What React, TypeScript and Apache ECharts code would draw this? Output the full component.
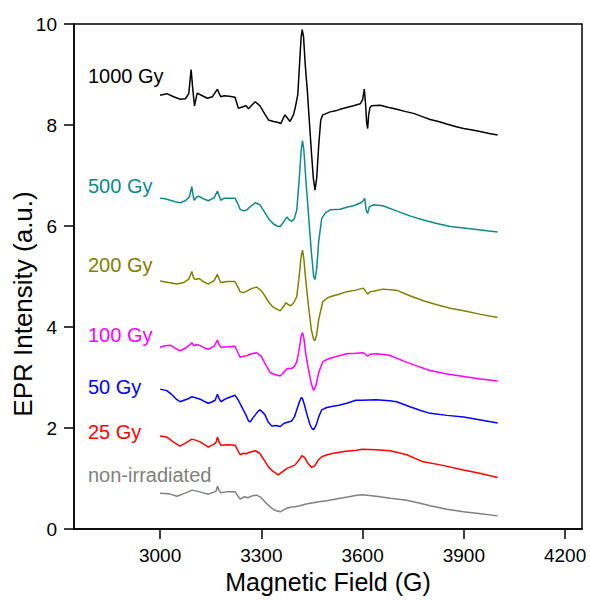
import React, { useEffect, useRef } from "react";
import * as echarts from "echarts";

const xTicks = [3000, 3300, 3600, 3900, 4200];
const yTicks = [0, 2, 4, 6, 8, 10];

const seriesNames = ["1000 Gy", "500 Gy", "200 Gy", "100 Gy", "50 Gy", "25 Gy", "non-irradiated"];
const seriesColors = ["#000000", "#0E8A8A", "#808000", "#FF00FF", "#0000FF", "#FF0000", "#808080"];

const gy1000: [number, number][] = [
  [3000, 8.59], [3020, 8.62], [3040, 8.56], [3060, 8.51], [3075, 8.52], [3085, 8.62], [3092, 9.1], [3097, 8.7],
  [3102, 8.38], [3110, 8.63], [3125, 8.58], [3140, 8.53], [3155, 8.56], [3165, 8.66], [3170, 8.71], [3175, 8.62],
  [3180, 8.56], [3190, 8.58], [3205, 8.57], [3222, 8.55], [3232, 8.33], [3245, 8.36], [3255, 8.38], [3262, 8.32],
  [3270, 8.38], [3282, 8.46], [3296, 8.38], [3310, 8.22], [3321, 8.1], [3336, 8.07], [3350, 8.05], [3358, 8.03],
  [3364, 8.12], [3370, 8.2], [3376, 8.15], [3385, 8.07], [3395, 8.2], [3400, 8.33], [3408, 8.6], [3414, 9.3],
  [3418, 9.75], [3421, 9.89], [3425, 9.75], [3430, 9.2], [3436, 8.7], [3442, 8.1], [3448, 7.5], [3454, 6.95],
  [3459, 6.71], [3464, 6.95], [3470, 7.6], [3476, 8.1], [3482, 8.2], [3490, 8.22], [3504, 8.26], [3520, 8.28],
  [3533, 8.31], [3550, 8.34], [3573, 8.38], [3593, 8.42], [3600, 8.5], [3605, 8.71], [3609, 8.4], [3612, 8.05],
  [3615, 7.93], [3618, 8.2], [3622, 8.35], [3627, 8.38], [3652, 8.39], [3675, 8.35], [3701, 8.31], [3725, 8.27],
  [3751, 8.23], [3775, 8.17], [3800, 8.11], [3825, 8.07], [3849, 8.02], [3875, 7.97], [3899, 7.93], [3925, 7.9],
  [3948, 7.87], [3975, 7.83], [4000, 7.8],
];

const gy500: [number, number][] = [
  [3000, 6.55], [3015, 6.54], [3030, 6.51], [3045, 6.48], [3059, 6.46], [3075, 6.5], [3087, 6.58], [3094, 6.78],
  [3098, 6.6], [3101, 6.51], [3108, 6.57], [3114, 6.59], [3128, 6.54], [3143, 6.5], [3160, 6.56], [3170, 6.69],
  [3175, 6.6], [3180, 6.51], [3190, 6.55], [3205, 6.55], [3222, 6.55], [3230, 6.45], [3237, 6.33], [3247, 6.3],
  [3257, 6.32], [3270, 6.4], [3282, 6.46], [3296, 6.42], [3310, 6.27], [3321, 6.15], [3336, 6.04], [3347, 6.0],
  [3356, 5.99], [3366, 6.08], [3376, 6.18], [3383, 6.12], [3390, 6.09], [3398, 6.15], [3405, 6.32], [3412, 6.9],
  [3418, 7.5], [3422, 7.69], [3426, 7.5], [3432, 6.9], [3440, 6.2], [3448, 5.5], [3455, 5.0], [3459, 4.94],
  [3464, 5.15], [3470, 5.7], [3479, 6.15], [3490, 6.26], [3504, 6.32], [3533, 6.33], [3553, 6.37], [3573, 6.4],
  [3595, 6.46], [3602, 6.5], [3606, 6.55], [3611, 6.3], [3615, 6.25], [3620, 6.38], [3632, 6.42], [3660, 6.4],
  [3700, 6.3], [3740, 6.2], [3780, 6.12], [3820, 6.05], [3860, 5.99], [3900, 5.96], [3950, 5.92], [4000, 5.88],
];

const gy200: [number, number][] = [
  [3000, 4.91], [3025, 4.88], [3050, 4.85], [3070, 4.88], [3085, 4.95], [3094, 5.1], [3099, 4.98], [3104, 4.94],
  [3116, 4.96], [3130, 4.89], [3143, 4.85], [3160, 4.92], [3170, 5.04], [3175, 4.95], [3180, 4.88], [3200, 4.9],
  [3222, 4.9], [3230, 4.8], [3237, 4.7], [3247, 4.68], [3257, 4.71], [3270, 4.76], [3286, 4.79], [3300, 4.72],
  [3310, 4.62], [3321, 4.5], [3331, 4.42], [3341, 4.37], [3356, 4.32], [3365, 4.4], [3373, 4.48], [3380, 4.44],
  [3387, 4.42], [3396, 4.48], [3405, 4.6], [3412, 5.0], [3418, 5.4], [3422, 5.52], [3426, 5.35], [3432, 4.9],
  [3440, 4.4], [3448, 3.95], [3455, 3.75], [3459, 3.73], [3464, 3.85], [3470, 4.15], [3482, 4.5], [3492, 4.56],
  [3504, 4.6], [3530, 4.65], [3553, 4.7], [3580, 4.73], [3602, 4.77], [3608, 4.72], [3615, 4.65], [3622, 4.7],
  [3632, 4.71], [3660, 4.75], [3700, 4.73], [3740, 4.62], [3780, 4.52], [3820, 4.44], [3860, 4.37], [3900, 4.32],
  [3950, 4.25], [4000, 4.19],
];

const gy100: [number, number][] = [
  [3000, 3.6], [3015, 3.63], [3030, 3.64], [3045, 3.58], [3059, 3.53], [3075, 3.58], [3087, 3.64], [3094, 3.69],
  [3100, 3.63], [3108, 3.65], [3116, 3.64], [3130, 3.59], [3143, 3.56], [3160, 3.62], [3170, 3.74], [3175, 3.65],
  [3180, 3.6], [3200, 3.61], [3222, 3.62], [3230, 3.5], [3237, 3.4], [3247, 3.42], [3257, 3.43], [3270, 3.47],
  [3286, 3.49], [3300, 3.42], [3313, 3.25], [3326, 3.1], [3340, 3.06], [3356, 3.03], [3366, 3.1], [3376, 3.18],
  [3390, 3.18], [3398, 3.22], [3405, 3.31], [3412, 3.55], [3418, 3.82], [3422, 3.89], [3426, 3.78], [3432, 3.45],
  [3440, 3.15], [3448, 2.88], [3453, 2.77], [3456, 2.75], [3462, 2.85], [3470, 3.1], [3482, 3.31], [3492, 3.35],
  [3504, 3.38], [3530, 3.43], [3553, 3.47], [3580, 3.48], [3602, 3.49], [3608, 3.46], [3615, 3.42], [3622, 3.46],
  [3642, 3.47], [3680, 3.44], [3720, 3.33], [3760, 3.23], [3800, 3.14], [3850, 3.07], [3900, 3.02], [3950, 2.97],
  [4000, 2.93],
];

const gy50: [number, number][] = [
  [3000, 2.77], [3020, 2.74], [3035, 2.66], [3050, 2.56], [3059, 2.52], [3075, 2.56], [3087, 2.59], [3094, 2.62],
  [3105, 2.6], [3119, 2.57], [3130, 2.53], [3143, 2.49], [3155, 2.52], [3163, 2.55], [3170, 2.67], [3175, 2.58],
  [3180, 2.52], [3195, 2.58], [3210, 2.62], [3222, 2.65], [3232, 2.55], [3242, 2.42], [3255, 2.25], [3262, 2.14],
  [3267, 2.12], [3275, 2.2], [3282, 2.26], [3290, 2.33], [3296, 2.36], [3304, 2.31], [3311, 2.26], [3320, 2.12],
  [3331, 2.04], [3343, 2.05], [3356, 2.03], [3363, 2.07], [3370, 2.1], [3380, 2.12], [3390, 2.14], [3398, 2.22],
  [3405, 2.36], [3413, 2.52], [3418, 2.6], [3422, 2.58], [3428, 2.45], [3436, 2.25], [3444, 2.07], [3450, 1.99],
  [3455, 1.97], [3462, 2.05], [3470, 2.22], [3479, 2.36], [3492, 2.4], [3504, 2.42], [3530, 2.45], [3553, 2.49],
  [3580, 2.55], [3598, 2.55], [3640, 2.56], [3680, 2.54], [3701, 2.52], [3740, 2.42], [3770, 2.35], [3800, 2.29],
  [3850, 2.25], [3899, 2.22], [3950, 2.16], [4000, 2.1],
];

const gy25: [number, number][] = [
  [3000, 1.84], [3020, 1.82], [3040, 1.72], [3059, 1.64], [3075, 1.7], [3087, 1.75], [3094, 1.78], [3105, 1.76],
  [3120, 1.72], [3143, 1.62], [3160, 1.68], [3166, 1.72], [3170, 1.82], [3175, 1.72], [3180, 1.66], [3200, 1.67],
  [3222, 1.66], [3230, 1.56], [3237, 1.47], [3247, 1.5], [3255, 1.49], [3265, 1.52], [3282, 1.55], [3295, 1.5],
  [3310, 1.35], [3321, 1.23], [3335, 1.14], [3350, 1.07], [3362, 1.13], [3376, 1.2], [3390, 1.24], [3400, 1.27],
  [3410, 1.35], [3420, 1.45], [3428, 1.42], [3438, 1.3], [3449, 1.22], [3458, 1.25], [3468, 1.36], [3479, 1.43],
  [3495, 1.47], [3514, 1.5], [3550, 1.54], [3583, 1.56], [3598, 1.58], [3640, 1.57], [3682, 1.55], [3731, 1.47],
  [3780, 1.33], [3830, 1.27], [3899, 1.17], [3950, 1.1], [4000, 1.02],
];

const gy0: [number, number][] = [
  [3000, 0.71], [3025, 0.7], [3050, 0.65], [3070, 0.7], [3085, 0.74], [3094, 0.77], [3110, 0.75], [3125, 0.72],
  [3143, 0.69], [3160, 0.73], [3166, 0.75], [3170, 0.85], [3175, 0.76], [3180, 0.72], [3200, 0.74], [3222, 0.74],
  [3230, 0.66], [3237, 0.59], [3250, 0.64], [3260, 0.62], [3275, 0.66], [3286, 0.67], [3300, 0.62], [3313, 0.52],
  [3326, 0.44], [3340, 0.37], [3356, 0.34], [3366, 0.38], [3376, 0.41], [3385, 0.43], [3400, 0.44], [3415, 0.46],
  [3430, 0.49], [3444, 0.51], [3455, 0.52], [3470, 0.54], [3494, 0.56], [3533, 0.61], [3560, 0.64], [3583, 0.67],
  [3600, 0.68], [3640, 0.65], [3682, 0.61], [3731, 0.57], [3770, 0.51], [3800, 0.46], [3850, 0.39], [3899, 0.34],
  [3950, 0.3], [4000, 0.26],
];

const seriesData = [gy1000, gy500, gy200, gy100, gy50, gy25, gy0];
const labelY = [77, 187, 266, 336, 388, 433, 476];

const FONT = "'Liberation Sans', Arial, Helvetica, sans-serif";

export default function App() {
  const ref = useRef<HTMLDivElement>(null);
  useEffect(() => {
    if (!ref.current) return;
    const chart = echarts.init(ref.current, null, { renderer: "svg" });
    chart.setOption({
      animation: false,
      backgroundColor: "#ffffff",
      textStyle: { fontFamily: FONT },
      grid: {
        left: 74, top: 24, right: 8, bottom: 71,
        show: true, borderColor: "#000", borderWidth: 1.5, backgroundColor: "transparent",
      },
      xAxis: {
        type: "value",
        min: 2745,
        max: 4250,
        name: "Magnetic Field (G)",
        nameLocation: "middle",
        nameGap: 40,
        nameTextStyle: { fontSize: 25, color: "#000", fontFamily: FONT },
        axisLine: { show: true, lineStyle: { color: "#000", width: 1.5 } },
        axisTick: { show: true, inside: false, length: 10, lineStyle: { color: "#000", width: 1.5 }, customValues: xTicks },
        axisLabel: {
          show: true, fontSize: 19, color: "#000", margin: 17, fontFamily: FONT, customValues: xTicks,
          formatter: (v: number) => String(v),
        },
        splitLine: { show: false },
      },
      yAxis: {
        type: "value",
        min: yTicks[0],
        max: yTicks[yTicks.length - 1],
        interval: 2,
        axisLine: { show: true, lineStyle: { color: "#000", width: 1.5 } },
        axisTick: { show: true, inside: false, length: 10, lineStyle: { color: "#000", width: 1.5 } },
        axisLabel: { show: true, fontSize: 19, color: "#000", margin: 17, fontFamily: FONT },
        splitLine: { show: false },
      },
      series: seriesData.map((d, i) => ({
        type: "line",
        name: seriesNames[i],
        data: d,
        showSymbol: false,
        symbol: "none",
        lineStyle: { color: seriesColors[i], width: 1.5 },
        itemStyle: { color: seriesColors[i] },
        z: 10 - i,
      })),
      graphic: [
        ...seriesNames.map((n, i) => ({
          type: "text",
          left: 88,
          top: labelY[i] - 11,
          style: {
            text: n,
            fill: seriesColors[i],
            fontSize: 20,
            fontFamily: FONT,
          },
        })),
        {
          type: "text",
          x: 23,
          y: 304,
          rotation: Math.PI / 2,
          style: {
            text: "EPR Intensity (a.u.)",
            fill: "#000",
            fontSize: 26,
            fontFamily: FONT,
            textAlign: "center",
            textVerticalAlign: "middle",
          },
        },
      ],
    });
    return () => chart.dispose();
  }, []);
  return <div ref={ref} style={{ position: "fixed", left: 0, top: 0, width: 590, height: 600 }} />;
}
